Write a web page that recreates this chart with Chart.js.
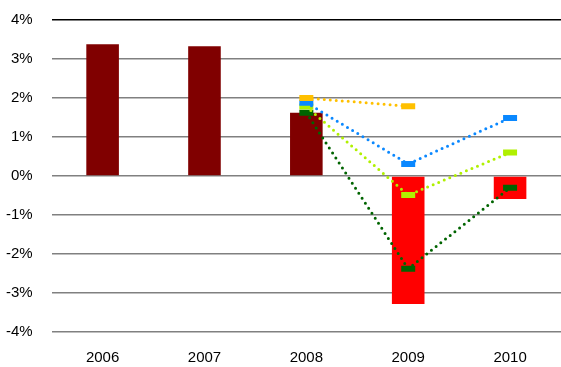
<!DOCTYPE html>
<html>
<head>
<meta charset="utf-8">
<script src="https://cdn.jsdelivr.net/npm/chart.js@4/dist/chart.umd.min.js"></script>
<style>
  html, body { margin: 0; padding: 0; background: #fff; overflow: hidden; }
  canvas { display: block; }
</style>
</head>
<body>
<canvas id="grafico" width="561" height="367"></canvas>
<script>
// years and actual growth (%)
const years = ['2006', '2007', '2008', '2009', '2010'];
const actual = [3.38, 3.33, 1.62, -3.28, -0.59];
const barColors = ['#800000', '#800000', '#800000', '#ff0000', '#ff0000'];

// forecast series, starting at 2008
const forecastOrange = [null, null, 2.0, 1.79, null];
const forecastBlue = [null, null, 1.88, 0.31, 1.49];
const forecastLime = [null, null, 1.78, -0.49, 0.6];
const forecastGreen = [null, null, 1.62, -2.38, -0.3];

const yTicks = [-4, -3, -2, -1, 0, 1, 2, 3, 4];

function dotted(data, color) {
    return {
        type: 'line',
        data: data,
        borderColor: color,
        backgroundColor: color,
        borderWidth: 3,
        borderDash: [0, 6],
        borderCapStyle: 'round',
        pointStyle: 'line',
        pointRadius: 7,
        pointBorderWidth: 6,
        pointBorderColor: color,
        fill: false,
        spanGaps: false,
        order: 0
    };
}

const labelFont = { family: 'Liberation Sans', size: 15 };

document.addEventListener('DOMContentLoaded', function () {
    let ctx = document.getElementById('grafico').getContext('2d');
    let chart = new Chart(ctx, {
        data: {
            labels: years,
            datasets: [
                {
                    type: 'bar',
                    data: actual,
                    backgroundColor: barColors,
                    barPercentage: 0.32,
                    categoryPercentage: 1,
                    order: 1
                },
                dotted(forecastOrange, '#ffc000'),
                dotted(forecastBlue, '#0a88ff'),
                dotted(forecastLime, '#b0f000'),
                dotted(forecastGreen, '#006400')
            ]
        },
        options: {
            responsive: false,
            animation: false,
            layout: { autoPadding: false, padding: { top: 20, right: 0, left: 6, bottom: 0 } },
            plugins: { legend: { display: false }, tooltip: { enabled: false } },
            scales: {
                x: {
                    // tick marks only reserve space under the plot
                    grid: { drawOnChartArea: false, tickLength: 17, tickColor: 'transparent' },
                    border: { display: false },
                    ticks: { color: '#000', padding: 0, font: labelFont }
                },
                y: {
                    min: -4,
                    max: 4,
                    afterBuildTicks: function (axis) {
                        axis.ticks = yTicks.map(v => ({ value: v }));
                    },
                    grid: {
                        color: ctx => ctx.tick && ctx.tick.value === 4 ? '#000' : '#808080',
                        lineWidth: 1.5,
                        tickLength: 19,
                        tickColor: 'transparent'
                    },
                    border: { display: false },
                    ticks: {
                        color: '#000',
                        padding: 0,
                        font: labelFont,
                        callback: v => v + '%'
                    }
                }
            }
        }
    });
});
</script>
</body>
</html>
